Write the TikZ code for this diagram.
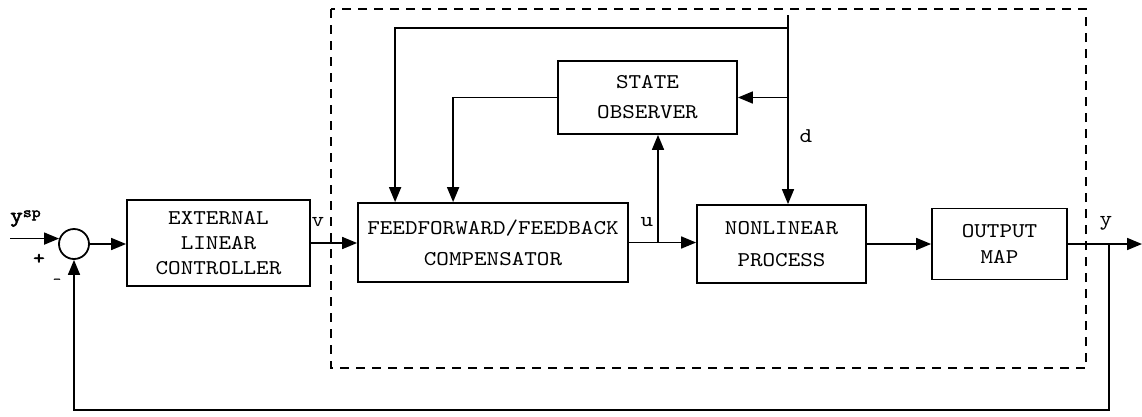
\documentclass[tikz,border=0pt]{standalone}
\usepackage{fontspec}
\setmonofont{lmmono10-regular.otf}[FakeStretch=1.14]
\newfontfamily\heavymono{lmmono10-regular.otf}[FakeStretch=1.14,FakeBold=2.5]
\usetikzlibrary{arrows.meta}
\begin{document}
\begin{tikzpicture}[x=1pt,y=-1pt,
  wire/.style={line width=1.7pt},
  arr/.style={wire,-{Triangle[length=15pt,width=12pt]}},
  blk/.style={draw,line width=1.8pt,align=center,inner sep=0pt},
  lbl/.style={font=\ttfamily\fontsize{21}{24}\selectfont,inner sep=0pt},
  boundary/.style={line width=1.7pt,dash pattern=on 9pt off 7pt}]
\useasboundingbox (0,0) rectangle (1142,416);

% dashed region holding the compensated process
\draw[boundary] (331,9) rectangle (1086,368);

% blocks
\node[circle,draw,line width=1.8pt,minimum size=30pt,inner sep=0pt] (sum) at (74,244) {};
\node[blk,minimum width=183pt,minimum height=86pt,font=\ttfamily\fontsize{21}{25}\selectfont]
  (ext) at (218.5,243) {EXTERNAL\\LINEAR\\CONTROLLER};
\node[blk,minimum width=270pt,minimum height=79pt,font=\ttfamily\fontsize{21}{31}\selectfont]
  (ff) at (493,242.5) {FEEDFORWARD/FEEDBACK\\COMPENSATOR};
\node[blk,minimum width=179pt,minimum height=73pt,font=\ttfamily\fontsize{21}{30}\selectfont]
  (so) at (647.5,97.5) {STATE\\OBSERVER};
\node[blk,minimum width=169pt,minimum height=78pt,font=\ttfamily\fontsize{21}{32}\selectfont]
  (np) at (781.5,244) {NONLINEAR\\PROCESS};
\node[blk,minimum width=135pt,minimum height=71pt,font=\ttfamily\fontsize{21}{26}\selectfont]
  (om) at (999.5,244) {OUTPUT\\MAP};

% helper points
\coordinate (in) at (10,0);
\coordinate (ub) at (658,242.5);
\coordinate (dtop) at (788,15);
\coordinate (tl) at (788,28);
\coordinate (out) at (1142,0);
\coordinate (fb) at (1109,244);
\coordinate (fbb) at (1109,410);

% signal paths
\draw[arr] (sum.160 -| in) -- (sum.160);
\draw[arr] (sum.east) -- (sum.east -| ext.west);
\draw[arr] (ext.east) -- (ext.east -| ff.west);
\draw[arr] (ff.east) -- (ff.east -| np.west);
\draw[arr] (ub) -- (ub |- so.south);
\draw[arr] (so.west) -| ([xshift=96pt]ff.north west);
\draw[arr] (dtop) -- (dtop |- np.north);
\draw[arr] (tl) -| ([xshift=38pt]ff.north west);
\draw[arr] (dtop |- so.east) -- (so.east);
\draw[arr] (np.east) -- (np.east -| om.west);
\draw[arr] (om.east) -- (om.east -| out);
\draw[arr] (fb) -- (fbb) -| (sum.south);

% signal labels
\node[lbl,anchor=base west] (ysp) at (10,222) {\heavymono y\raisebox{0.55ex}{\fontsize{15}{16}\selectfont sp}};
\node[lbl,font=\heavymono\fontsize{19}{20}\selectfont] (plus) at (39,259) {+};
\node[lbl,font=\heavymono\fontsize{13}{14}\selectfont] (minus) at (57,281) {-};
\node[lbl] (v) at (318,222) {v};
\node[lbl] (u) at (647,222) {u};
\node[lbl] (d) at (806,136) {d};
\node[lbl] (y) at (1106,223) {y};
\end{tikzpicture}
\end{document}
